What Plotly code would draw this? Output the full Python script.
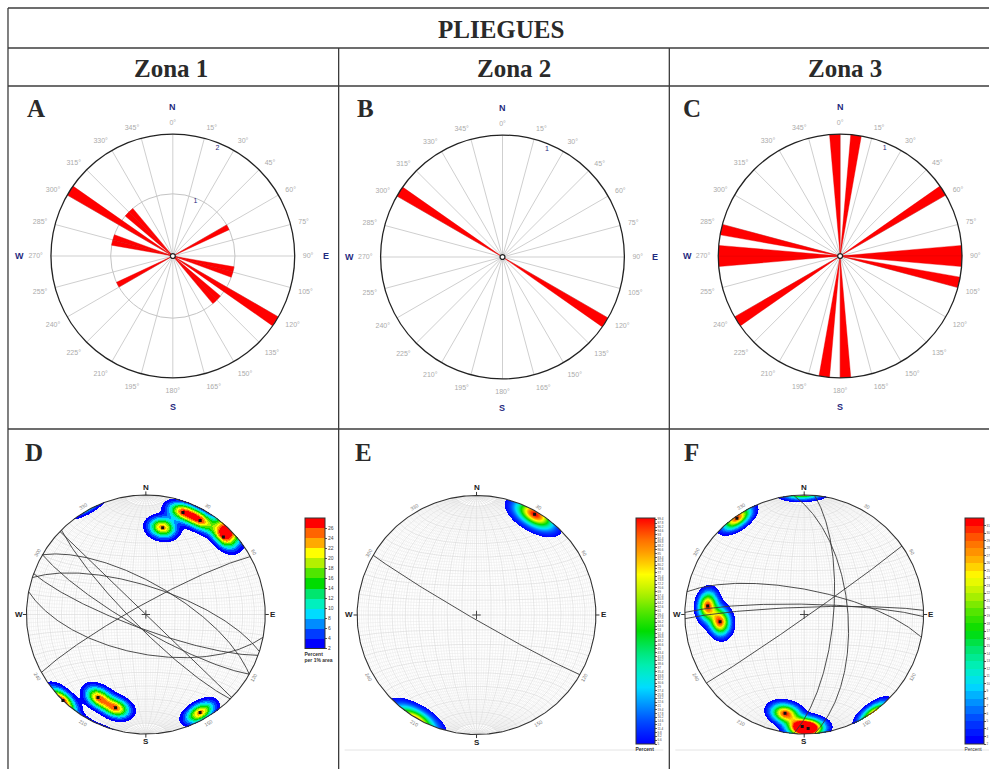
import numpy as np
import plotly.graph_objects as go

FIG_W, FIG_H = 990, 769

# ---------------- DATA ----------------
TITLE = "PLIEGUES"
ZONES = ["Zona 1", "Zona 2", "Zona 3"]
ROSE_LETTERS = ["A", "B", "C"]
NET_LETTERS = ["D", "E", "F"]

# Rose diagrams: 5-degree bins (bin centre, degrees) and counts; axial data (drawn both ways)
rose_A_bins = [62.5, 102.5, 107.5, 122.5, 132.5, 137.5]
rose_A_counts = [1, 1, 1, 2, 1, 1]
rose_B_bins = [122.5]
rose_B_counts = [1]
rose_C_bins = [7.5, 57.5, 87.5, 92.5, 102.5, 177.5]
rose_C_counts = [1, 1, 1, 1, 1, 1]
rose_max = [2, 1, 1]
rose_rings = [[1], [], []]
rose_ring_labels = [["1", "2"], ["1"], ["1"]]
rose_ring_values = [[1, 2], [1], [1]]
rose_ticks = list(range(0, 360, 15))
rose_ticktext = [f"{a}°" for a in rose_ticks]
rose_compass = [["N", "E", "S", "W"], ["N", "E", "S", "W"], ["N", "S", "W"]]  # C's "E" falls off the page

# Stereonets: fold limb planes (dip direction, dip) -> great circles and poles
net_D_dipdir = [191, 200, 210, 225, 44, 30, 18, 331]
net_D_dip = [63, 80, 80, 81, 90, 69, 71, 83]
net_E_dipdir = [210]
net_E_dip = [87]
net_F_dipdir = [145, 95, 85, 11, 1, 358]
net_F_dip = [88, 70, 60, 73, 83, 85]
net_rim_labels = [30, 60, 120, 150, 210, 240, 300, 330]
net_D_levels = list(range(2, 29, 2))          # 13 bands, 2..28 % per 1% area
net_F_levels = list(range(2, 33, 1))          # 30 bands
net_E_range = [5, 100]                        # continuous

# ---------------- GEOMETRY (pixels) ----------------
ROSE_C = [(173, 256), (503, 257), (841, 256)]
ROSE_R = 122
NET_C = [(146, 614.5), (477, 615), (805, 614.5)]
NET_R = 119.5
NET_SPAN = 1.15

def px(x):
    return x / FIG_W

def py(y):
    return 1 - y / FIG_H

# colour ramp (jet-like, as in the stereonet software)
RAMP = [(0.0, (0, 0, 255)), (0.083, (0, 60, 255)), (0.167, (0, 140, 255)), (0.25, (0, 220, 255)),
        (0.333, (0, 240, 190)), (0.417, (0, 230, 110)), (0.5, (0, 220, 0)), (0.583, (80, 230, 0)),
        (0.667, (180, 240, 0)), (0.75, (255, 255, 0)), (0.833, (255, 170, 0)), (0.917, (255, 100, 0)),
        (1.0, (255, 0, 0))]

def ramp(t):
    for (t0, c0), (t1, c1) in zip(RAMP[:-1], RAMP[1:]):
        if t <= t1:
            f = 0 if t1 == t0 else (t - t0) / (t1 - t0)
            c = [round(a + (b - a) * f) for a, b in zip(c0, c1)]
            return f"rgb({c[0]},{c[1]},{c[2]})"
    return "rgb(255,0,0)"

def step_scale(n):
    cs = []
    for i in range(n):
        c = ramp(i / (n - 1))
        cs.append([i / n, c])
        cs.append([(i + 1) / n, c])
    return cs

def proj(v):
    f = 1.0 / np.sqrt(1.0 - v[:, 2])
    return v[:, 0] * f, v[:, 1] * f

def great_circle(dd, dip, n=181):
    s, d, dp = np.radians(dd - 90), np.radians(dd), np.radians(dip)
    S = np.array([np.sin(s), np.cos(s), 0.0])
    D = np.array([np.cos(dp) * np.sin(d), np.cos(dp) * np.cos(d), -np.sin(dp)])
    t = np.linspace(0, np.pi, n)
    v = np.outer(np.cos(t), S) + np.outer(np.sin(t), D)
    return proj(v)

def poles(dds, dips):
    tr = np.radians(np.array(dds) + 180.0)
    pl = np.radians(90.0 - np.array(dips))
    return np.stack([np.cos(pl) * np.sin(tr), np.cos(pl) * np.cos(tr), -np.sin(pl)], axis=1)

def net_grid(step=2):
    out = {"minor": ([], []), "major": ([], [])}
    N = np.array([0.0, 1.0, 0.0])
    for a in range(step, 180, step):
        ar = np.radians(a)
        key = "major" if a % 10 == 0 else "minor"
        D = np.array([np.cos(ar), 0.0, -np.sin(ar)])
        t0 = 0.0 if a % 10 == 0 else np.radians(10)
        t = np.linspace(t0, np.pi - t0, 91)
        v = np.outer(np.cos(t), N) + np.outer(np.sin(t), D)
        x, y = proj(v)
        out[key][0].extend(list(x) + [None])
        out[key][1].extend(list(y) + [None])
        ph = np.linspace(np.pi, 2 * np.pi, 91)
        v2 = np.stack([np.sin(ar) * np.cos(ph), np.full_like(ph, np.cos(ar)), np.sin(ar) * np.sin(ph)], axis=1)
        x2, y2 = proj(v2)
        out[key][0].extend(list(x2) + [None])
        out[key][1].extend(list(y2) + [None])
    return out

def density(dds, dips, k, amp, n=241):
    P = poles(dds, dips)
    g = np.linspace(-1, 1, n)
    X, Y = np.meshgrid(g, g)
    R = np.hypot(X, Y)
    th = 2 * np.arcsin(np.clip(R / np.sqrt(2), 0, 1))
    az = np.arctan2(X, Y)
    V = np.stack([np.sin(th) * np.sin(az), np.sin(th) * np.cos(az), -np.cos(th)], axis=-1)
    c = np.abs(V @ P.T)
    d = 100.0 / len(P) * amp * np.exp(k * (c - 1)).sum(axis=-1)
    d[R > 1] = np.nan
    return g, d

fig = go.Figure()
annotations = []
shapes = []
layout_extra = {}

# ---------------- ROSES ----------------
rose_bins = [rose_A_bins, rose_B_bins, rose_C_bins]
rose_counts = [rose_A_counts, rose_B_counts, rose_C_counts]
COMPASS = {"N": (0, 149), "E": (90, 153), "S": (180, 151), "W": (270, 153)}
for i in range(3):
    pid = "polar" if i == 0 else f"polar{i + 1}"
    cx, cy = ROSE_C[i]
    th = list(rose_bins[i]) + [(b + 180) % 360 for b in rose_bins[i]]
    rr = list(rose_counts[i]) * 2
    fig.add_trace(go.Barpolar(r=rr, theta=th, width=5, marker_color="#ff0000",
                              marker_line_color="#e00000", marker_line_width=0.4,
                              subplot=pid, showlegend=False, hoverinfo="skip"))
    fig.add_trace(go.Scatterpolar(r=[v * 0.955 for v in rose_ring_values[i]], theta=[22.5] * len(rose_ring_values[i]),
                                  mode="text", text=rose_ring_labels[i], cliponaxis=False,
                                  textfont=dict(size=7, color="#1f2a80", family="Liberation Sans"),
                                  subplot=pid, showlegend=False, hoverinfo="skip"))
    layout_extra[pid] = dict(
        domain=dict(x=[px(cx - ROSE_R), px(cx + ROSE_R)], y=[py(cy + ROSE_R), py(cy - ROSE_R)]),
        bgcolor="white", hole=0.02,
        angularaxis=dict(rotation=90, direction="clockwise", tickmode="array", tickvals=rose_ticks,
                         ticktext=rose_ticktext, tickfont=dict(size=7, color="#ababab", family="Liberation Sans"),
                         showline=True, linecolor="#222222", linewidth=1.3, gridcolor="#cfcfcf",
                         gridwidth=0.8, ticks="outside", ticklen=6, tickcolor="rgba(0,0,0,0)"),
        radialaxis=dict(range=[0, rose_max[i]], showticklabels=False, ticks="", showline=False,
                        tickmode="array", tickvals=rose_rings[i], showgrid=len(rose_rings[i]) > 0,
                        gridcolor="#c4c4c4", gridwidth=0.8),
    )
    for lab in rose_compass[i]:
        ang, dist = COMPASS[lab]
        annotations.append(dict(x=px(cx + dist * np.sin(np.radians(ang))), y=py(cy - dist * np.cos(np.radians(ang))),
                                xref="paper", yref="paper", text=f"<b>{lab}</b>", showarrow=False,
                                xanchor="center", yanchor="middle",
                                font=dict(size=9, color="#1f2a80", family="Liberation Sans")))

# ---------------- STEREONETS ----------------
grid = net_grid(2)
circ_t = np.linspace(0, 2 * np.pi, 361)
net_dd = [net_D_dipdir, net_E_dipdir, net_F_dipdir]
net_dp = [net_D_dip, net_E_dip, net_F_dip]
cb_left = [305, 636, 965]
cb_len = [148, 237, 237]
cb_thick = [20, 19, 19]
for i in range(3):
    cx, cy = NET_C[i]
    half = NET_SPAN * NET_R
    bx, by = f"x{i + 1}", f"y{i + 1}"
    ox, oy = f"x{i + 4}", f"y{i + 4}"
    dom = dict(x=[px(cx - half), px(cx + half)], y=[py(cy + half), py(cy - half)])
    ax = dict(range=[-NET_SPAN, NET_SPAN], showgrid=False, zeroline=False, showticklabels=False,
              ticks="", showline=False, fixedrange=True)
    layout_extra[f"xaxis{i + 1}"] = dict(domain=dom["x"], anchor=by, **ax)
    layout_extra[f"yaxis{i + 1}"] = dict(domain=dom["y"], anchor=bx, **ax)
    layout_extra[f"xaxis{i + 4}"] = dict(overlaying=bx, anchor=oy, **ax)
    layout_extra[f"yaxis{i + 4}"] = dict(overlaying=by, anchor=ox, **ax)

    # net grid (base subplot)
    fig.add_trace(go.Scatter(x=grid["minor"][0], y=grid["minor"][1], mode="lines",
                             line=dict(color="#e9e9e9", width=0.5), xaxis=bx, yaxis=by,
                             showlegend=False, hoverinfo="skip"))
    fig.add_trace(go.Scatter(x=grid["major"][0], y=grid["major"][1], mode="lines",
                             line=dict(color="#d8d8d8", width=0.6), xaxis=bx, yaxis=by,
                             showlegend=False, hoverinfo="skip"))

    # density
    if i == 0:
        g, d = density(net_dd[i], net_dp[i], k=130, amp=1.9)
        lv = net_D_levels
    elif i == 2:
        g, d = density(net_dd[i], net_dp[i], k=130, amp=1.8)
        lv = net_F_levels
    else:
        g, d = density(net_dd[i], net_dp[i], k=80, amp=1.0)
        lv = None
    cbar = dict(x=px(cb_left[i]), xanchor="left", y=py(518), yanchor="top", len=cb_len[i], lenmode="pixels",
                thickness=cb_thick[i], thicknessmode="pixels", xpad=0, ypad=0, outlinewidth=1,
                outlinecolor="#333333", ticks="outside", ticklen=2, tickcolor="#555",
                tickfont=dict(size=5, color="#444", family="Liberation Sans"))
    if lv is not None:
        nb = len(lv) - 1
        step = lv[1] - lv[0]
        zb = np.floor((d - lv[0]) / step)
        zb[~(d >= lv[0])] = np.nan
        zb = np.clip(zb, 0, nb - 1)
        cbar.update(tickmode="array", tickvals=[j - 0.5 for j in range(nb)],
                    ticktext=[str(v) for v in lv[:nb]])
        if i == 0:
            cbar.update(title=dict(text="<b>Percent<br>per 1% area</b>", side="bottom",
                                   font=dict(size=5, color="#333", family="Liberation Sans")))
        else:
            cbar.update(title=dict(text="Percent", side="bottom",
                                   font=dict(size=5, color="#333", family="Liberation Sans")),
                        tickfont=dict(size=3, color="#444", family="Liberation Sans"))
        fig.add_trace(go.Heatmap(x=g, y=g, z=zb, zmin=-0.5, zmax=nb - 0.5, colorscale=step_scale(nb),
                                 colorbar=cbar, xaxis=ox, yaxis=oy, hoverinfo="skip"))
    else:
        z = np.where(d >= net_E_range[0], d, np.nan)
        cs = [[j / 20, ramp(j / 20)] for j in range(21)]
        cbar.update(tickmode="linear", tick0=net_E_range[0], dtick=1.6,
                    tickfont=dict(size=3, color="#444", family="Liberation Sans"),
                    title=dict(text="<b>Percent</b>", side="bottom",
                               font=dict(size=5, color="#333", family="Liberation Sans")))
        fig.add_trace(go.Heatmap(x=g, y=g, z=z, zmin=net_E_range[0], zmax=net_E_range[1], colorscale=cs,
                                 colorbar=cbar, xaxis=ox, yaxis=oy, hoverinfo="skip"))

    # great circles
    gx, gy = [], []
    for dd, dp in zip(net_dd[i], net_dp[i]):
        x, y = great_circle(dd, dp)
        gx += list(x) + [None]
        gy += list(y) + [None]
    fig.add_trace(go.Scatter(x=gx, y=gy, mode="lines", line=dict(color="#3a3a3a", width=0.9),
                             xaxis=ox, yaxis=oy, showlegend=False, hoverinfo="skip"))
    # primitive + cardinal ticks
    fig.add_trace(go.Scatter(x=np.sin(circ_t), y=np.cos(circ_t), mode="lines",
                             line=dict(color="#333333", width=1.1), xaxis=ox, yaxis=oy,
                             showlegend=False, hoverinfo="skip"))
    tx, ty = [], []
    for a in [0, 90, 180, 270]:
        s, c = np.sin(np.radians(a)), np.cos(np.radians(a))
        tx += [s, 1.03 * s, None]
        ty += [c, 1.03 * c, None]
    fig.add_trace(go.Scatter(x=tx, y=ty, mode="lines", line=dict(color="#333", width=1),
                             xaxis=ox, yaxis=oy, showlegend=False, hoverinfo="skip"))
    # centre cross
    fig.add_trace(go.Scatter(x=[0], y=[0], mode="markers",
                             marker=dict(symbol="cross-thin", size=6, line=dict(color="#444", width=1)),
                             xaxis=ox, yaxis=oy, showlegend=False, hoverinfo="skip"))
    # poles
    P = poles(net_dd[i], net_dp[i])
    pxs, pys = proj(P)
    fig.add_trace(go.Scatter(x=pxs, y=pys, mode="markers",
                             marker=dict(symbol="square", size=3, color="#111111"),
                             xaxis=ox, yaxis=oy, showlegend=False, hoverinfo="skip"))
    # labels
    for lab, a in [("N", 0), ("E", 90), ("S", 180), ("W", 270)]:
        s, c = np.sin(np.radians(a)), np.cos(np.radians(a))
        annotations.append(dict(x=1.065 * s, y=1.065 * c, xref=ox, yref=oy, text=f"<b>{lab}</b>",
                                xanchor="center", yanchor="middle",
                                showarrow=False, font=dict(size=8, color="#222", family="Liberation Sans")))
    for a in net_rim_labels:
        s, c = np.sin(np.radians(a)), np.cos(np.radians(a))
        ta = a if (a <= 90 or a >= 270) else a - 180
        ta = ta - 360 if ta > 180 else ta
        annotations.append(dict(x=1.045 * s, y=1.045 * c, xref=ox, yref=oy, text=str(a), textangle=ta,
                                xanchor="center", yanchor="middle",
                                showarrow=False, font=dict(size=5, color="#777", family="Liberation Sans")))

# ---------------- TABLE FRAME AND TEXT ----------------
LINE = dict(color="#3c3c3c", width=1.3)
for (x0, y0, x1, y1) in [(8, 8, 990, 8), (8, 48, 990, 48), (8, 86, 990, 86), (8, 429, 990, 429),
                         (8, 8, 8, 769), (339, 48, 339, 769), (670, 48, 670, 769)]:
    shapes.append(dict(type="line", xref="paper", yref="paper", x0=px(x0), y0=py(y0), x1=px(x1), y1=py(y1),
                       line=LINE))
for (x0, x1) in [(345, 664), (676, 990)]:
    shapes.append(dict(type="line", xref="paper", yref="paper", x0=px(x0), y0=py(750), x1=px(x1), y1=py(750),
                       line=dict(color="#e4e4e4", width=1)))

SERIF = "Liberation Serif"
annotations.append(dict(x=px(502), y=py(29), xref="paper", yref="paper", text=f"<b>{TITLE}</b>",
                        xanchor="center", yanchor="middle",
                        showarrow=False, font=dict(size=25, color="#2a2a2a", family=SERIF)))
for x, z in zip([171, 515, 846], ZONES):
    annotations.append(dict(x=px(x), y=py(68), xref="paper", yref="paper", text=f"<b>{z}</b>",
                            xanchor="center", yanchor="middle",
                            showarrow=False, font=dict(size=25, color="#2a2a2a", family=SERIF)))
for x, lab in zip([25, 355, 682], ROSE_LETTERS):
    annotations.append(dict(x=px(x), y=py(108), xref="paper", yref="paper", text=f"<b>{lab}</b>",
                            xanchor="left", yanchor="middle",
                            showarrow=False, font=dict(size=25, color="#2a2a2a", family=SERIF)))
for x, lab in zip([23, 353, 683], NET_LETTERS):
    annotations.append(dict(x=px(x), y=py(452), xref="paper", yref="paper", text=f"<b>{lab}</b>",
                            xanchor="left", yanchor="middle",
                            showarrow=False, font=dict(size=25, color="#2a2a2a", family=SERIF)))

fig.update_layout(width=FIG_W, height=FIG_H, margin=dict(l=0, r=0, t=0, b=0, pad=0),
                  paper_bgcolor="white", plot_bgcolor="rgba(0,0,0,0)", showlegend=False,
                  annotations=annotations, shapes=shapes, **layout_extra)
fig.write_html("out.html")
